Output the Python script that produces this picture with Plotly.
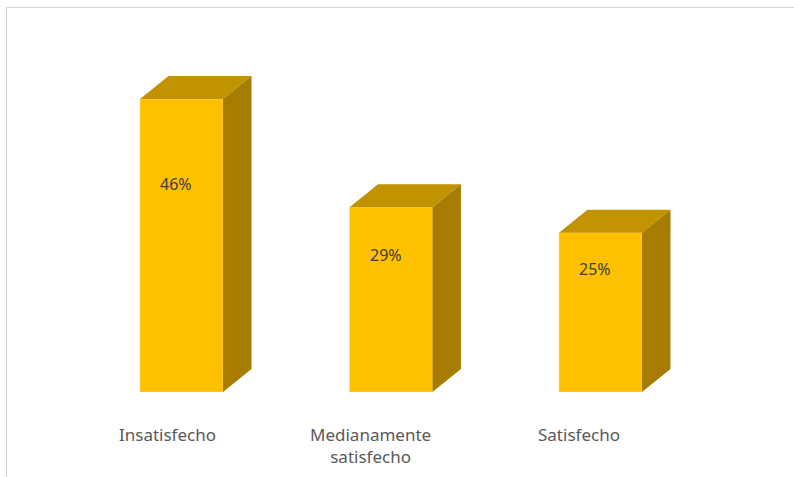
import plotly.graph_objects as go

# Survey result: satisfaction levels (percent)
categories = ["Insatisfecho", "Medianamente<br>satisfecho", "Satisfecho"]
values = [46, 29, 25]
value_labels = ["46%", "29%", "25%"]

# 3D-look styling
FRONT = "#FFC000"
TOP = "#C29300"
SIDE = "#A67D00"
BAR_W = 0.396      # front face width in category units
DEPTH_X = 0.136    # receding depth, x direction (category units)
DEPTH_Y = 3.6      # receding depth, y direction (percent units)
LABEL_FRAC = [0.71, 0.74, 0.77]   # vertical placement of value labels within bars
CAT_DX = [-0.067, -0.1, -0.103]   # horizontal placement of category labels

W, H = 794, 477
BASE_PX = 392
PX_PER_UNIT = 6.37
CAT_PX = 209.5
FIRST_PX = 181.5

fig = go.Figure()

xs = list(range(len(values)))

# front faces
fig.add_trace(go.Bar(
    x=xs, y=values, width=BAR_W,
    marker=dict(color=FRONT, line=dict(width=0.6, color="#FFD966")),
    hoverinfo="skip", showlegend=False,
))

# top and side faces
for x, v in zip(xs, values):
    l, r = x - BAR_W / 2, x + BAR_W / 2
    fig.add_trace(go.Scatter(
        x=[l, r, r + DEPTH_X, l + DEPTH_X, l],
        y=[v, v, v + DEPTH_Y, v + DEPTH_Y, v],
        fill="toself", fillcolor=TOP, mode="lines",
        line=dict(width=0, color=TOP), hoverinfo="skip", showlegend=False,
    ))
    fig.add_trace(go.Scatter(
        x=[r, r + DEPTH_X, r + DEPTH_X, r, r],
        y=[0, DEPTH_Y, v + DEPTH_Y, v, 0],
        fill="toself", fillcolor=SIDE, mode="lines",
        line=dict(width=0, color=SIDE), hoverinfo="skip", showlegend=False,
    ))

annotations = []
for x, v, t, f in zip(xs, values, value_labels, LABEL_FRAC):
    annotations.append(dict(
        x=x - 0.025, y=v * f, text=t, showarrow=False,
        font=dict(family="Noto Sans", size=16, color="#404040"),
        xanchor="center", yanchor="middle",
    ))
for x, c, dx in zip(xs, categories, CAT_DX):
    annotations.append(dict(
        x=x + dx, y=0, text=c, showarrow=False, yshift=-29,
        font=dict(family="Noto Sans", size=17, color="#595959"),
        xanchor="center", yanchor="top", align="center",
    ))

x0 = -FIRST_PX / CAT_PX
x1 = (W - FIRST_PX) / CAT_PX
y1 = BASE_PX / PX_PER_UNIT

fig.update_layout(
    width=W, height=H,
    margin=dict(l=0, r=0, t=0, b=H - BASE_PX),
    paper_bgcolor="white", plot_bgcolor="white",
    xaxis=dict(range=[x0, x1], visible=False, fixedrange=True),
    yaxis=dict(range=[0, y1], visible=False, fixedrange=True),
    annotations=annotations,
    shapes=[dict(
        type="rect", xref="paper", yref="paper",
        x0=6.5 / W, x1=1.2, y0=-0.5, y1=1 - 7.5 / BASE_PX,
        line=dict(color="#D4D4D4", width=1), layer="below",
    )],
    barmode="overlay",
)

fig.write_html("out.html")
